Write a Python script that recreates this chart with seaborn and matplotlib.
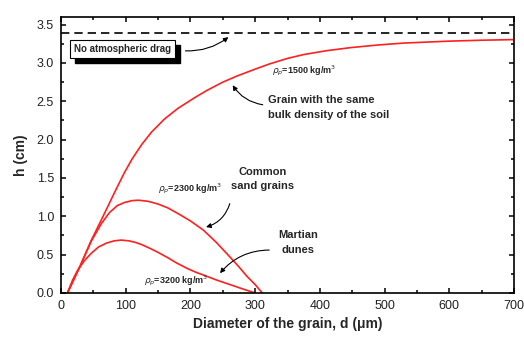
import pandas as pd
import matplotlib.pyplot as plt
from matplotlib.patches import Rectangle
import seaborn as sns
from matplotlib.ticker import MultipleLocator

# values
d_1500 = [10, 20, 30, 47, 65, 85, 98, 110, 125, 140, 160, 181, 207, 225, 250, 272, 300,
          323, 350, 375, 410, 447, 490, 530, 600, 650, 700]
h_1500 = [0.0, 0.18, 0.36, 0.69, 1.0, 1.35, 1.57, 1.75, 1.94, 2.10, 2.27, 2.41, 2.55, 2.64,
          2.75, 2.83, 2.92, 2.99, 3.06, 3.11, 3.16, 3.20, 3.235, 3.26, 3.285, 3.297, 3.305]
d_2300 = [10, 20, 30, 47, 62, 75, 87, 98, 110, 120, 135, 150, 165, 180, 200, 220, 240,
          261, 275, 287, 300, 311]
h_2300 = [0.0, 0.18, 0.36, 0.68, 0.90, 1.05, 1.14, 1.18, 1.205, 1.21, 1.195, 1.16, 1.11,
          1.04, 0.94, 0.82, 0.66, 0.47, 0.34, 0.22, 0.11, 0.0]
d_3200 = [10, 18, 26, 36, 47, 58, 70, 82, 93, 105, 115, 125, 138, 150, 165, 179, 195,
          210, 220, 240, 261, 280, 300]
h_3200 = [0.0, 0.17, 0.30, 0.42, 0.52, 0.60, 0.65, 0.68, 0.69, 0.68, 0.66, 0.63, 0.58,
          0.53, 0.46, 0.39, 0.32, 0.265, 0.235, 0.17, 0.11, 0.055, 0.0]
h_free = 3.39

df = pd.concat([
    pd.DataFrame({"d": d_1500, "h": h_1500, "rho": "1500"}),
    pd.DataFrame({"d": d_2300, "h": h_2300, "rho": "2300"}),
    pd.DataFrame({"d": d_3200, "h": h_3200, "rho": "3200"}),
])

sns.set_style("ticks")
plt.rcParams['font.family'] = ['Liberation Sans', 'DejaVu Sans']

fig = plt.figure(figsize=(5.24, 3.37), dpi=100)
ax = fig.add_axes([0.1164, 0.1306, 0.8646, 0.819])

for rho, g in df.groupby("rho"):
    sns.lineplot(data=g, x="d", y="h", ax=ax, color="#ff2020", lw=1.2,
                 sort=False, estimator=None)
ax.axhline(h_free, color="black", ls=(0, (5, 3)), lw=1.2)

ax.set_xlim(0, 700)
ax.set_ylim(0, 3.6)
ax.xaxis.set_major_locator(MultipleLocator(100))
ax.yaxis.set_major_locator(MultipleLocator(0.5))
ax.tick_params(which="both", length=0, labelsize=9, labelcolor="#222222", pad=5)
for s in ax.spines.values():
    s.set_linewidth(1.2)
    s.set_color("black")

# inward ticks on all four sides, drawn as short lines at the locator positions
xmaj = [t for t in ax.get_xticks() if 0 <= t <= 700]
xmin = [t + 50 for t in xmaj if t + 50 < 700]
ymaj = [t for t in ax.get_yticks() if 0 <= t <= 3.6]
ymin = [t + 0.25 for t in ymaj if t + 0.25 < 3.6]
xt = ax.get_xaxis_transform()
yt = ax.get_yaxis_transform()
for ticks, ln in ((xmaj, 0.019), (xmin, 0.011)):
    ax.vlines(ticks, 0, ln, transform=xt, color="black", lw=1.1, clip_on=False, zorder=5)
    ax.vlines(ticks, 1 - ln, 1, transform=xt, color="black", lw=1.1, clip_on=False, zorder=5)
for ticks, ln in ((ymaj, 0.0115), (ymin, 0.0066)):
    ax.hlines(ticks, 0, ln, transform=yt, color="black", lw=1.1, clip_on=False, zorder=5)
    ax.hlines(ticks, 1 - ln, 1, transform=yt, color="black", lw=1.1, clip_on=False, zorder=5)

ax.set_xlabel("Diameter of the grain, d (μm)", fontsize=10, fontweight="bold", labelpad=4)
ax.set_ylabel("h (cm)", fontsize=10, fontweight="bold", labelpad=6)

bold = dict(fontsize=8, fontweight="bold")
small = dict(fontsize=6.5, fontweight="bold")
arr = dict(arrowstyle="-|>", color="black", lw=0.8, mutation_scale=7)

# "No atmospheric drag" box with a black drop shadow
label = ax.text(20, 3.18, "No atmospheric drag", fontsize=7, fontweight="bold", va="center",
                bbox=dict(boxstyle="square,pad=0.4", lw=0.8, ec="black", fc="white"), zorder=4)
fig.canvas.draw()
bb = label.get_bbox_patch().get_window_extent()
ax.add_artist(Rectangle((bb.x0 + 5, bb.y0 - 5), bb.width, bb.height, transform=None,
                        fc="black", ec="black", zorder=3))
ax.annotate("", xy=(262, 3.36), xytext=(188, 3.16),
            arrowprops=dict(arr, connectionstyle="arc3,rad=0.2"))

ax.text(326, 2.86, r"$\rho_p$=1500 kg/m$^3$", **small)
ax.text(320, 2.58, "Grain with the same\nbulk density of the soil", va="top",
        linespacing=1.55, **bold)
ax.annotate("", xy=(263, 2.74), xytext=(316, 2.45),
            arrowprops=dict(arr, connectionstyle="arc3,rad=-0.25"))

ax.text(312, 1.64, "Common\nsand grains", ha="center", va="top", linespacing=1.45, **bold)
ax.text(150, 1.33, r"$\rho_p$=2300 kg/m$^3$", **small)
ax.annotate("", xy=(220, 0.85), xytext=(262, 1.2),
            arrowprops=dict(arr, connectionstyle="arc3,rad=-0.3"))

ax.text(366, 0.82, "Martian\ndunes", ha="center", va="top", linespacing=1.55, **bold)
ax.text(128, 0.12, r"$\rho_p$=3200 kg/m$^3$", **small)
ax.annotate("", xy=(243, 0.23), xytext=(326, 0.56),
            arrowprops=dict(arr, connectionstyle="arc3,rad=0.25"))

fig.savefig("out.png", dpi=100)
